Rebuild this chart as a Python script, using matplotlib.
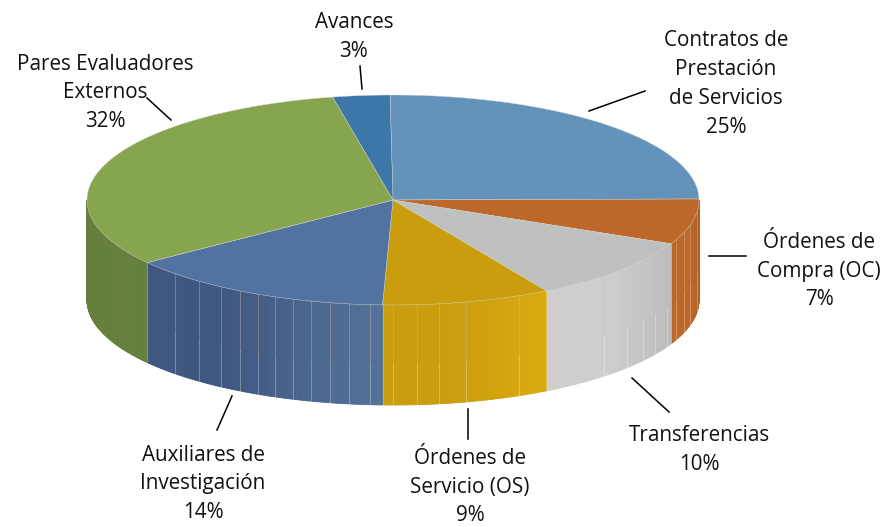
import numpy as np
import matplotlib
matplotlib.use('Agg')
import matplotlib.pyplot as plt
from matplotlib.colors import to_rgb
from matplotlib.patches import Polygon

# data, clockwise from the top of the pie
categorias = ['Contratos de\nPrestación\nde Servicios', 'Órdenes de\nCompra (OC)', 'Transferencias',
              'Órdenes de\nServicio (OS)', 'Auxiliares de\nInvestigación', 'Pares Evaluadores\nExternos', 'Avances']
valores = [25, 7, 9.8, 8.9, 14.3, 32, 3]

colores_tapa = ['#6393BA', '#BD682A', '#BFC1C0', '#C99D0E', '#5272A2', '#87A54F', '#3D76A8']
# side wall colour at the start and the end of each wedge
colores_lado = [('#6393BA', '#6393BA'), ('#A96027', '#BD682A'), ('#BBBBBB', '#CECECE'),
                ('#DCAA0F', '#C99D0E'), ('#547299', '#3F5680'), ('#657F3C', '#657F3C'), ('#3D76A8', '#3D76A8')]

# thin vertical seams on the wall, in degrees
costuras = [96.8, 104, 108, 112.3, 116.5, 121.1, 125.2, 130.1, 136.4, 155.7, 166.2, 171.4, 175.5, 180,
            184.3, 188.3, 191.9, 195.5, 199, 202.7, 206.2, 210, 214.2, 219.3, 225.4]

# label centre and leader line for each wedge
pos_texto = [(726, 84), (819, 271), (699, 450), (470, 487), (203, 484), (105, 93), (354, 37)]
lineas = [((589, 111), (645, 91)), ((709, 256), (746, 256)), ((632, 378), (669, 412)), ((468, 409), (468, 439)),
          ((232, 396), (217, 430)), ((147, 98), (171, 120)), ((360, 66), (362, 89))]

cx, cy, rx, ry = 393, 200, 306, 105
alto = 100
inicio = -0.56


def punto(t, dy=0):
    t = np.radians(t)
    return cx + rx * np.sin(t), cy - ry * np.cos(t) + dy


fig = plt.figure(figsize=(8.85, 5.27), dpi=100)
ax = fig.add_axes([0, 0, 1, 1])
ax.set_xlim(0, 885)
ax.set_ylim(527, 0)
ax.axis('off')

limites = inicio + np.cumsum([0] + valores) * 3.6

# side wall
for i in range(len(valores)):
    a = max(limites[i], 90)
    b = min(limites[i + 1], 270)
    if a >= b:
        continue
    c1 = np.array(to_rgb(colores_lado[i][0]))
    c2 = np.array(to_rgb(colores_lado[i][1]))
    pasos = np.arange(a, b, 0.5).tolist() + [b]
    for t0, t1 in zip(pasos[:-1], pasos[1:]):
        f = ((t0 + t1) / 2 - limites[i]) / (limites[i + 1] - limites[i])
        c = c1 + (c2 - c1) * min(f * 1.6, 1)
        x0, y0 = punto(t0)
        x1, y1 = punto(t1)
        ax.add_patch(Polygon([(x0, y0), (x1, y1), (x1, y1 + alto), (x0, y0 + alto)],
                             facecolor=c, edgecolor=c, linewidth=0.6, zorder=2))

# seams, a little darker on top and lighter below
for t in costuras:
    x, y = punto(t)
    ax.plot([x, x], [y, y + alto * 0.6], color='#D8B8A0', alpha=0.4, linewidth=0.7, zorder=3)
    ax.plot([x, x], [y + alto * 0.6, y + alto], color='white', alpha=0.3, linewidth=0.7, zorder=3)

# wall edges between wedges
for t in limites[1:-1]:
    if 90 < t < 270:
        x, y = punto(t)
        ax.plot([x, x], [y, y + alto], color='white', alpha=0.25, linewidth=0.6, zorder=3)

# top of the pie
for i, color in enumerate(colores_tapa):
    ts = np.linspace(limites[i], limites[i + 1], 120)
    xs, ys = punto(ts)
    ax.add_patch(Polygon([(cx, cy)] + list(zip(xs, ys)), closed=True, facecolor=color,
                         edgecolor='#D4D8D0', linewidth=0.3, zorder=4))

# labels and leader lines
for nombre, valor, (x, y), (p, q) in zip(categorias, valores, pos_texto, lineas):
    ax.text(x, y, f'{nombre}\n{valor:.0f}%', ha='center', va='center', family='Open Sans',
            fontsize=14.9, color='#111111', linespacing=1.49, zorder=6)
    ax.plot([p[0], q[0]], [p[1], q[1]], color='black', linewidth=1.1, zorder=5)

fig.savefig('out.png', dpi=100, facecolor='white')
